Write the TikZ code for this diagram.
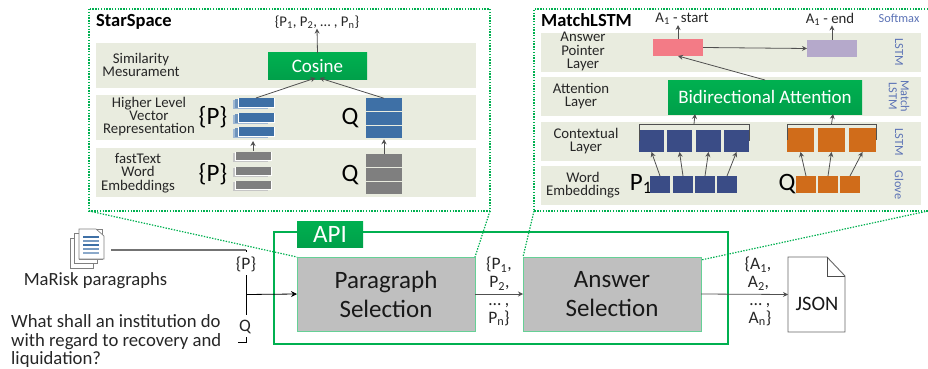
\documentclass[tikz,border=0pt]{standalone}
\usepackage{fontspec}
\setmainfont{Carlito}
\usetikzlibrary{arrows.meta,calc}
\definecolor{apigreen}{HTML}{00B050}
\definecolor{apidark}{HTML}{00A04A}
\definecolor{bandgray}{HTML}{E9ECDF}
\definecolor{boxgray}{HTML}{BFBFBF}
\definecolor{stackblue}{HTML}{3E70A6}
\definecolor{stackgray}{HTML}{7F7F7F}
\definecolor{navy}{HTML}{3A4C86}
\definecolor{rust}{HTML}{D06C1A}
\definecolor{startred}{HTML}{F37B86}
\definecolor{endlilac}{HTML}{B5A9CB}
\definecolor{sidetext}{HTML}{5B72B5}
\definecolor{linegray}{HTML}{505050}
\tikzset{band/.style={fill=bandgray,draw=none},
         block/.style={inner sep=0pt,outer sep=0pt,draw=none},
         greenbox/.style={block,top color=apigreen,bottom color=apidark,text=white},
         selectbox/.style={block,fill=boxgray,draw=apigreen!60!white,line width=.8pt,font=\fontsize{25}{29}\selectfont,align=center,text=black!90},
         panel/.style={draw=apigreen,dash pattern=on 1.4pt off 1.4pt,line width=1.2pt},
         lab/.style={inner sep=0pt,align=center,font=\fontsize{14.8}{13.4}\selectfont,text=black!85},
         title/.style={lab,font=\bfseries\fontsize{18.5}{20}\selectfont,anchor=west,text=black},
         biglab/.style={inner sep=0pt,font=\fontsize{25}{28}\selectfont,text=black},
         side/.style={inner sep=0pt,align=center,font=\fontsize{12.3}{12}\selectfont,text=sidetext},
         flow/.style={inner sep=0pt,align=center,font=\fontsize{17.5}{18}\selectfont,text=black!85},
         arr/.style={draw=linegray,line width=.8pt,-{Stealth[length=5pt,width=5pt]}},
         brace/.style={draw=linegray,line width=.9pt}}
\begin{document}
\begin{tikzpicture}[x=1pt,y=-1pt]
\useasboundingbox (0,0) rectangle (928,369);
% panels
\draw[panel] (89,9) rectangle (490,211);
\draw[panel] (928,9) -- (534,9) -- (534,211) -- (928,211);
% StarSpace bands
\foreach \top/\bot in {43/88,95/140,148/197}
  \fill[band] (96,\top) rectangle (476,\bot);
\node[title] (starspace) at (96,22) {StarSpace};
\node[lab] (simlab) at (141,65) {Similarity\\Mesurament};
\node[lab] (highlab) at (149,116.5) {Higher Level\\Vector\\Representation};
\node[lab] (fastlab) at (138,173) {fastText\\Word\\Embeddings};
\node[lab] (pout) at (317,22) {\{P\textsubscript{1}, P\textsubscript{2}, … , P\textsubscript{n}\}};
\node[greenbox,minimum width=99pt,minimum height=26pt,font=\fontsize{19}{21}\selectfont] (cosine) at (317.5,66) {Cosine};
\node[biglab] (phigh) at (213,117) {\{P\}};
\node[biglab] (qhigh) at (350,118) {Q};
\node[biglab] (pfast) at (213,174) {\{P\}};
\node[biglab] (qfast) at (350,175) {Q};
% paragraph stacks
\foreach \y in {102.5,117.5,131.5} {
  \fill[stackblue!50] (233,\y-3) rectangle (268,\y+6);
  \fill[white] (234.5,\y-4) rectangle (270,\y+5.5);
  \fill[stackblue!75] (235,\y-3.5) rectangle (270,\y+5.5);
  \fill[white] (237.5,\y-5) rectangle (275,\y+5.2);
  \fill[stackblue] (238.5,\y-4.5) rectangle (274,\y+4.5);
}
\foreach \y in {156,171,185} {
  \fill[stackgray!45] (233,\y-3) rectangle (268,\y+6);
  \fill[white] (234.5,\y-4.5) rectangle (272,\y+4.8);
  \fill[stackgray] (236,\y-4.5) rectangle (271,\y+3.8);
}
\coordinate (phightop) at (256,98);
\coordinate (phighbot) at (253,141);
\coordinate (pfasttop) at (253,151);
% question stacks
\foreach \name/\y in {qb1/104.5,qb2/118.5,qb3/132} \node[block,fill=stackblue,minimum width=36pt,minimum height=12.5pt] (\name) at (384,\y) {};
\foreach \name/\y in {qg1/160.5,qg2/174.5,qg3/188} \node[block,fill=stackgray,minimum width=36pt,minimum height=12.5pt] (\name) at (384,\y) {};
\draw[arr] (qg1.north) -- ($(qb3.south)+(0,1)$);
\draw[arr] (pfasttop) -- (phighbot);
\draw[arr] (phightop) -- ($(cosine.south)+(-2,-1)$);
\draw[arr] (qb1.north) -- ($(cosine.south)+(2,-1)$);
\draw[arr] (cosine.north) -- (pout.south);
% MatchLSTM bands
\foreach \top/\bot in {33/72,77/116,122/161,166/205}
  \fill[band] (541,\top) rectangle (921,\bot);
\node[title] (matchlstm) at (541,20) {MatchLSTM};
\node[lab] (pointerlab) at (583,51.5) {Answer\\Pointer\\Layer};
\node[lab] (attlab) at (581,96) {Attention\\Layer};
\node[lab] (ctxlab) at (586,141) {Contextual\\Layer};
\node[lab] (wordlab) at (583,185) {Word\\Embeddings};
\node[lab] (startlab) at (682,19) {A\textsubscript{1} - start};
\node[lab] (endlab) at (830,19) {A\textsubscript{1} - end};
\node[side] (softmax) at (899,18) {Softmax};
\node[side,rotate=-90] (lstmtop) at (899,52) {LSTM};
\node[side,rotate=-90] (lstmmatch) at (899,96) {Match\\LSTM};
\node[side,rotate=-90] (lstmctx) at (899,142) {LSTM};
\node[side,rotate=-90] (glove) at (899,185) {Glove};
\node[block,fill=startred,minimum width=50pt,minimum height=17pt] (start) at (678,47.5) {};
\node[block,fill=endlilac,minimum width=50pt,minimum height=17pt] (end) at (832,48.5) {};
\node[greenbox,minimum width=194pt,minimum height=34pt,font=\fontsize{19}{21}\selectfont] (biatt) at (765,97) {Bidirectional Attention};
\node[biglab] (p1) at (641,184) {P\textsubscript{1}};
\node[biglab] (qword) at (787,184) {Q};
% contextual and word cells
\foreach \name/\x in {cp1/651.5,cp2/679.5,cp3/708.5,cp4/736.5}
  \node[block,fill=navy,minimum width=25pt,minimum height=22pt] (\name) at (\x,141) {};
\foreach \name/\x in {cq1/800.5,cq2/831.5,cq3/862.5}
  \node[block,fill=rust,minimum width=27pt,minimum height=24pt] (\name) at (\x,140) {};
\foreach \name/\x in {wp1/660,wp2/683,wp3/705,wp4/727}
  \node[block,fill=navy,minimum width=20pt,minimum height=17pt] (\name) at (\x,184.5) {};
\foreach \name/\x in {wq1/806,wq2/828,wq3/850}
  \node[block,fill=rust,minimum width=20pt,minimum height=17pt] (\name) at (\x,184.5) {};
\foreach \from/\to in {wp1/cp1,wp2/cp2,wp3/cp3,wp4/cp4,wq1/cq1,wq2/cq2,wq3/cq3}
  \draw[arr] (\from.north) -- (\to.south);
\draw[brace] (cp1.west) -- ($(cp1.north west)+(0,-6)$) -- ($(cp4.north east)+(0,-6)$) -- (cp4.east);
\draw[brace] (cq1.west) -- ($(cq1.north west)+(0,-4)$) -- ($(cq3.north east)+(0,-4)$) -- (cq3.east);
\draw[arr] ($(cp1.north west)!.5!(cp4.north east)+(0,-6)$) -- (biatt.south -| 695,0);
\draw[arr] ($(cq1.north west)!.5!(cq3.north east)+(0,-4)$) -- (biatt.south -| 833,0);
\draw[arr] (biatt.north) -- (start.south);
\draw[arr] (start.east) -- (end.west);
\draw[arr] (start.north) -- (startlab.south -| start.north);
\draw[arr] (end.north) -- (endlab.south -| end.north);
% api
\draw[apigreen,line width=1.6pt] (274,232) rectangle (728,344);
\node[greenbox,minimum width=66pt,minimum height=26pt,font=\fontsize{25}{27}\selectfont] (api) at (330,234) {API};
\node[selectbox,minimum width=178pt,minimum height=74pt] (parsel) at (386,294) {Paragraph\\Selection};
\node[selectbox,minimum width=178pt,minimum height=74pt] (anssel) at (612,294) {Answer\\Selection};
\draw[panel] (89,211) -- (parsel.north west);
\draw[panel] (490,211) -- (parsel.north east);
\draw[panel] (534,211) -- (anssel.north west);
\draw[panel] (928,211) -- ($(anssel.north east)+(0,3)$);
% json file
\draw[draw=black!60,fill=white,line width=.9pt] (788,257) -- (827,257) -- (845,276) -- (845,332) -- (788,332) -- cycle;
\draw[draw=black!70,line width=1pt] (827,257) -- (827,276) -- (845,276);
\node[inner sep=0pt,font=\fontsize{20.5}{22}\selectfont,text=black!90] (json) at (817,304) {JSON};
\coordinate (jsonin) at (788,294.5);
% document icon
\foreach \dx in {0,4.5,9}
  \draw[draw=black!50,fill=white,line width=.7pt] (70+\dx,238-\dx) -- (93+\dx,238-\dx) -- (93+\dx,268-\dx) -- (70+\dx,268-\dx) -- cycle;
\draw[draw=black!50,fill=white,line width=.7pt] (79,229) -- (96,229) -- (104,236) -- (104,259) -- (79,259) -- cycle;
\foreach \y/\c in {237/stackblue,241/stackblue!70,245/stackblue,249/stackblue!70,253/stackblue!60}
  \draw[\c,line width=1.1pt] (83,\y) -- (99,\y);
\node[lab,font=\fontsize{18.6}{19}\selectfont] (marisk) at (95.5,281) {MaRisk paragraphs};
\coordinate (docout) at (111,250);
\node[flow] (pset) at (246,264) {\{P\}};
\node[flow] (qset) at (245,327) {Q};
\coordinate (pcorner) at (246,250);
\coordinate (qturn) at (246,342.5);
\draw[draw=black!55,line width=1.2pt] (docout) -- (pcorner);
\draw[draw=black,line width=.6pt] (pcorner) -- +(0,1.5);
\draw[black,line width=.8pt] (246,275) -- (246,315);
\draw[black,line width=.6pt] (246,337) -- (qturn) -- (238,342.5);
\coordinate (join) at (246,294.5);
\draw[black,line width=.8pt,-{Stealth[length=6pt,width=6pt]}] (join) -- (parsel.west);
\node[lab,font=\fontsize{18.7}{18.5}\selectfont,align=left,anchor=north west] (question) at (11,314.5) {What shall an institution do\\with regard to recovery and\\liquidation?};
\draw[arr] (parsel.east) -- (anssel.west);
\draw[arr] (anssel.east) -- (jsonin);
\node[flow,anchor=north] (pflowa) at (499,257) {\{P\textsubscript{1},\\\hspace*{1pt}P\textsubscript{2},};
\node[flow,anchor=north] (pflowb) at (499,303) {… ,\\P\textsubscript{n}\}};
\node[flow,anchor=north] (aflowa) at (758,257) {\{A\textsubscript{1},\\\hspace*{1pt}A\textsubscript{2},};
\node[flow,anchor=north] (aflowb) at (760,303) {… ,\\A\textsubscript{n}\}};
\end{tikzpicture}
\end{document}
